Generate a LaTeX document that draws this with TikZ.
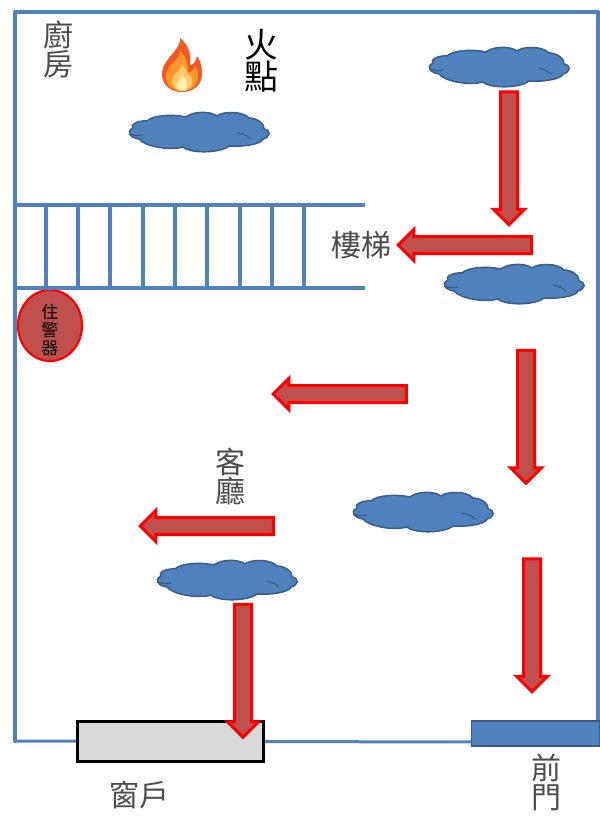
\documentclass[tikz,border=0pt]{standalone}
\usepackage{fontspec}
\setmainfont{Noto Sans CJK TC}
\usepackage{xcolor}
\definecolor{Col1}{RGB}{79,129,189}
\definecolor{Col2}{RGB}{192,80,77}
\definecolor{Col3}{RGB}{56,93,138}
\definecolor{Fire1}{RGB}{243,88,38}
\definecolor{Fire2}{RGB}{255,152,40}
\definecolor{Fire3}{RGB}{255,200,110}
\definecolor{Fire4}{RGB}{255,240,170}
\usetikzlibrary{shapes.geometric}
\usetikzlibrary{shapes.arrows}
\tikzstyle{Wall}=[draw=Col1,line width=4pt]
\tikzstyle{Arrow}=[single arrow,draw=red,fill=Col2,line width=3pt,inner sep=7pt,
minimum width=28pt,minimum height=133pt,single arrow head extend=7pt,
single arrow head indent=0pt]
\tikzstyle{Down}=[Arrow,shape border rotate=270]
\tikzstyle{Left}=[Arrow,shape border rotate=180]
\tikzstyle{Label}=[inner sep=0pt,align=center,text=black!70,
font=\fontsize{30}{29}\selectfont]
\tikzset{CloudPic/.pic={
    \draw[draw=Col3,fill=Col1,line width=1.5pt,line join=round](-66,-4)
        ..controls(-70,-7)and(-60,-12)..(-52,-11)
        ..controls(-46,-17)and(-26,-18)..(-13,-15)
        ..controls(-6,-21)and(12,-21)..(18,-16)
        ..controls(24,-21)and(44,-21)..(50,-14)
        ..controls(58,-14)and(66,-8)..(65,-3)
        ..controls(72,-2)and(72,5)..(64,7)
        ..controls(62,13)and(40,15)..(30,14)
        ..controls(22,21)and(-8,22)..(-16,15)
        ..controls(-30,19)and(-55,14)..(-60,7)
        ..controls(-68,6)and(-74,0)..(-66,-4)--cycle;
    \draw[draw=Col3,line width=1.2pt](-69,2)..controls(-64,4)and(-60,4)..(-56,3);
    \draw[draw=Col3,line width=1.2pt](39,1)..controls(45,2)and(49,4)..(52,7);
}}
\begin{document}
\begin{tikzpicture}[x=1pt,y=-1pt]
        \useasboundingbox (0,0) rectangle (600,820);
        % alarm
        \node[ellipse,draw=red,fill=Col2,line width=2.2pt,minimum width=64pt,
            minimum height=71pt,inner sep=0pt](alarm)at(50,325.5){};
        \node[inner sep=0pt,align=center,font=\fontsize{17}{18}\selectfont]
            (alarmtext)at(50,330){住\\警\\器};
        % walls
        \draw[Wall,line cap=round,line join=round](15,741)--(15,12)--(598,12)--(598,722);
        \draw[Wall,line width=3pt](15,741)--(480,742);
        % stairs
        \draw[Wall](15,205)--(365,205);
        \draw[Wall](15,288)--(365,288);
        \foreach \x in {46,78,110,143,175,207,240,272,304}
            \draw[Wall](\x,205)--(\x,288);
        % window, door
        \node[draw=black,fill=black!15,line width=2.5pt,minimum width=186pt,
            minimum height=40pt,inner sep=0pt](window)at(170.5,741.5){};
        \node[draw=Col3,fill=Col1,line width=1.2pt,minimum width=128pt,
            minimum height=25pt,inner sep=0pt](door)at(535.5,733.5){};
        % clouds
        \pic(cloud1)at(499,67){CloudPic};
        \pic(cloud2)at(199,132){CloudPic};
        \pic(cloud3)at(514,284){CloudPic};
        \pic(cloud4)at(423,512){CloudPic};
        \pic(cloud5)at(227,580){CloudPic};
        % arrows
        \node[Down](arrow1)at(509,154){};
        \node[Left](arrow2)at(469,245){};
        \node[Down](arrow3)at(526,412.5){};
        \node[Left](arrow4)at(344,394){};
        \node[Left](arrow5)at(211,526){};
        \node[Down](arrow6)at(532,621){};
        \node[Down](arrow7)at(243,666.5){};
        % fire
        \fill[Fire1](180,38)..controls(181,50)and(164,58)..(162,72)
            ..controls(161,84)and(170,92)..(182,92)..controls(194,92)and(203,84)..(202,72)
            ..controls(202,66)and(200,60)..(197,56)..controls(196,62)and(193,65)..(190,65)
            ..controls(192,55)and(188,44)..(180,38)--cycle;
        \fill[Fire2](180,50)..controls(181,60)and(167,64)..(166,75)
            ..controls(165,85)and(173,91)..(182,91)..controls(191,91)and(199,85)..(198,74)
            ..controls(198,70)and(197,68)..(195,66)..controls(194,70)and(191,73)..(188,72)
            ..controls(188,63)and(185,55)..(180,50)--cycle;
        \fill[Fire3](182,64)..controls(182,70)and(172,74)..(172,81)
            ..controls(172,87)and(177,91)..(182,91)..controls(188,91)and(193,87)..(192,80)
            ..controls(192,76)and(190,75)..(188,74)..controls(187,72)and(185,68)..(182,64)--cycle;
        \fill[Fire4](182,74)..controls(182,79)and(176,82)..(177,87)
            ..controls(178,90)and(180,91)..(182,91)..controls(185,91)and(188,89)..(187,85)
            ..controls(187,81)and(184,78)..(182,74)--cycle;
        % labels
        \node[Label](kitchen)at(58,49){廚\\房};
        \node[Label,text=black,font=\fontsize{34}{30}\selectfont](firepoint)at(261,61){火\\點};
        \node[Label](stairs)at(361,245){樓梯};
        \node[Label](living)at(230,476){客\\廳};
        \node[Label](windowlabel)at(139,795){窗戶};
        \node[Label](doorlabel)at(546,783){前\\門};
    \end{tikzpicture}
\end{document}
